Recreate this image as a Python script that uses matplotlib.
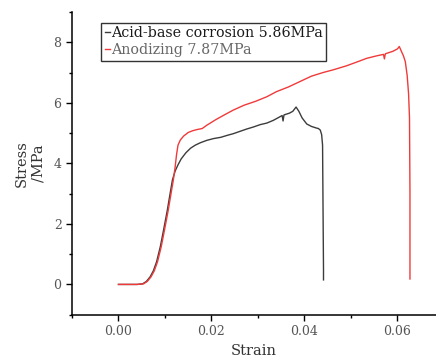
import matplotlib
matplotlib.use("Agg")
import matplotlib.pyplot as plt
from matplotlib.ticker import MultipleLocator

plt.rcParams['font.family'] = ['DejaVu Serif']

# Acid-base corrosion curve (strain, stress MPa)
acid_strain = [0.0, 0.002, 0.004, 0.0052, 0.006, 0.0068, 0.0075, 0.0082, 0.009, 0.0097,
               0.0105, 0.0111, 0.0116, 0.0122, 0.0128, 0.0135, 0.0145, 0.0155, 0.0165,
               0.0176, 0.019, 0.0205, 0.022, 0.0235, 0.0247, 0.026, 0.0275, 0.029,
               0.0305, 0.0319, 0.0333, 0.0345, 0.0352, 0.0354, 0.0356, 0.036, 0.0368,
               0.0375, 0.0382, 0.0388, 0.0395, 0.0405, 0.0415, 0.0425, 0.043, 0.0434,
               0.0437, 0.0439, 0.044, 0.0441, 0.0441]
acid_stress = [0.0, 0.0, 0.0, 0.02, 0.1, 0.25, 0.45, 0.75, 1.25, 1.8,
               2.45, 3.0, 3.45, 3.75, 3.95, 4.15, 4.35, 4.5, 4.6,
               4.68, 4.76, 4.82, 4.86, 4.93, 4.98, 5.05, 5.13, 5.2,
               5.28, 5.33, 5.42, 5.52, 5.58, 5.4, 5.6, 5.62, 5.66,
               5.72, 5.86, 5.72, 5.5, 5.3, 5.22, 5.17, 5.15, 5.1,
               4.95, 4.6, 2.5, 0.5, 0.15]

# Anodizing curve (strain, stress MPa)
anod_strain = [0.0, 0.002, 0.004, 0.0054, 0.0062, 0.007, 0.0077, 0.0084, 0.0092, 0.0099,
               0.0107, 0.0113, 0.0118, 0.0122, 0.0125, 0.0128, 0.0133, 0.014, 0.015,
               0.016, 0.017, 0.018, 0.019, 0.021, 0.023, 0.0247, 0.027, 0.0295,
               0.0319, 0.034, 0.0365, 0.039, 0.0415, 0.044, 0.0462, 0.049, 0.0515,
               0.0534, 0.0555, 0.057, 0.0572, 0.0574, 0.059, 0.06, 0.0604, 0.0608,
               0.0613, 0.0617, 0.0621, 0.0624, 0.0626, 0.0627, 0.0627]
anod_stress = [0.0, 0.0, 0.0, 0.02, 0.1, 0.25, 0.45, 0.75, 1.25, 1.8,
               2.45, 3.0, 3.45, 3.9, 4.3, 4.6, 4.77, 4.9, 5.02,
               5.08, 5.12, 5.15, 5.26, 5.45, 5.62, 5.76, 5.92, 6.05,
               6.2, 6.37, 6.52, 6.7, 6.88, 7.0, 7.09, 7.22, 7.36,
               7.47, 7.55, 7.6, 7.45, 7.62, 7.7, 7.78, 7.86, 7.72,
               7.55, 7.36, 6.9, 6.3, 5.5, 3.0, 0.18]

fig = plt.figure(figsize=(4.36, 3.58), dpi=100)
ax = fig.add_axes([72 / 436, (358 - 314.7) / 358, (436 - 72) / 436, (314.7 - 12) / 358])

ax.plot(acid_strain, acid_stress, color='#3c3c3c', lw=1.0, label='Acid-base corrosion 5.86MPa')
ax.plot(anod_strain, anod_stress, color='#f03a3a', lw=1.0, label='Anodizing 7.87MPa')

ax.set_xlim(-0.01, 0.0683)
ax.set_ylim(-1, 9)
ax.xaxis.set_major_locator(MultipleLocator(0.02))
ax.xaxis.set_minor_locator(MultipleLocator(0.01))
ax.yaxis.set_major_locator(MultipleLocator(2))
ax.yaxis.set_minor_locator(MultipleLocator(1))
ax.xaxis.set_major_formatter(plt.FuncFormatter(lambda v, p: f"{v:.2f}"))
ax.tick_params(which='major', direction='out', length=4, width=1, labelsize=9, labelcolor='#555555')
ax.tick_params(which='minor', direction='out', length=2.5, width=1)
for s in ['top', 'right']:
    ax.spines[s].set_visible(False)
for s in ['left', 'bottom']:
    ax.spines[s].set_linewidth(1.1)

ax.set_xlabel('Strain', fontsize=10.5, color='#333333', labelpad=4)
ax.set_ylabel('Stress\n/MPa', fontsize=10.5, color='#333333', labelpad=6)

leg = ax.legend(loc='upper left', bbox_to_anchor=(0.08, 0.965), fontsize=10.3,
                handlelength=0.35, handletextpad=0.1, borderpad=0.25, labelspacing=0.2,
                fancybox=False, frameon=True, edgecolor='black', borderaxespad=0)
leg.get_frame().set_linewidth(1.0)
for t, c in zip(leg.get_texts(), ['#1a1a1a', '#666666']):
    t.set_color(c)

fig.savefig('out.png', dpi=100)
